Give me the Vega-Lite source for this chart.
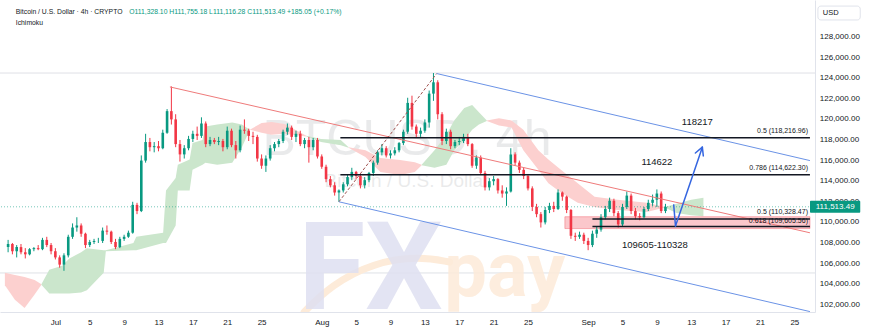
{
"$schema":"https://vega.github.io/schema/vega-lite/v6.json",
"width":815,"height":312,
"autosize":{"type":"none"},
"padding":{"left":0,"top":0,"right":55,"bottom":20},
"background":"white",
"config":{"view":{"stroke":null},"font":"Liberation Sans"},
"datasets":{
"candles":[
{"d":"2025-06-25T12:00","o":107.6,"h":108.3,"l":107.1,"c":107.9},
{"d":"2025-06-26T00:00","o":107.9,"h":108.0,"l":106.9,"c":107.2},
{"d":"2025-06-26T12:00","o":107.2,"h":107.8,"l":106.6,"c":107.6},
{"d":"2025-06-27T00:00","o":107.6,"h":107.9,"l":106.9,"c":107.1},
{"d":"2025-06-27T12:00","o":107.1,"h":107.5,"l":106.5,"c":106.9},
{"d":"2025-06-28T00:00","o":106.9,"h":107.5,"l":106.8,"c":107.4},
{"d":"2025-06-28T12:00","o":107.4,"h":107.6,"l":107.2,"c":107.5},
{"d":"2025-06-29T00:00","o":107.5,"h":107.8,"l":107.3,"c":107.4},
{"d":"2025-06-29T12:00","o":107.4,"h":108.5,"l":107.3,"c":108.3},
{"d":"2025-06-30T00:00","o":108.3,"h":108.6,"l":107.6,"c":107.8},
{"d":"2025-06-30T12:00","o":107.8,"h":108.0,"l":106.9,"c":107.2},
{"d":"2025-07-01T00:00","o":107.2,"h":107.5,"l":106.4,"c":106.6},
{"d":"2025-07-01T12:00","o":106.6,"h":106.8,"l":105.6,"c":105.9},
{"d":"2025-07-02T00:00","o":105.9,"h":107.0,"l":105.3,"c":106.8},
{"d":"2025-07-02T12:00","o":106.8,"h":108.8,"l":106.6,"c":108.6},
{"d":"2025-07-03T00:00","o":108.6,"h":109.9,"l":108.4,"c":109.5},
{"d":"2025-07-03T12:00","o":109.5,"h":110.5,"l":109.1,"c":109.7},
{"d":"2025-07-04T00:00","o":109.7,"h":109.9,"l":108.6,"c":108.9},
{"d":"2025-07-04T12:00","o":108.9,"h":109.0,"l":107.5,"c":107.8},
{"d":"2025-07-05T00:00","o":107.8,"h":108.3,"l":107.6,"c":108.1},
{"d":"2025-07-05T12:00","o":108.1,"h":108.4,"l":107.9,"c":108.2},
{"d":"2025-07-06T00:00","o":108.2,"h":108.5,"l":108.0,"c":108.2},
{"d":"2025-07-06T12:00","o":108.2,"h":109.5,"l":108.0,"c":109.2},
{"d":"2025-07-07T00:00","o":109.2,"h":109.7,"l":108.8,"c":109.1},
{"d":"2025-07-07T12:00","o":109.1,"h":109.2,"l":107.9,"c":108.1},
{"d":"2025-07-08T00:00","o":108.1,"h":108.4,"l":107.4,"c":107.6},
{"d":"2025-07-08T12:00","o":107.6,"h":108.6,"l":107.5,"c":108.4},
{"d":"2025-07-09T00:00","o":108.4,"h":108.8,"l":108.2,"c":108.6},
{"d":"2025-07-09T12:00","o":108.6,"h":109.2,"l":108.5,"c":109.0},
{"d":"2025-07-10T00:00","o":109.0,"h":112.0,"l":108.9,"c":111.7},
{"d":"2025-07-10T12:00","o":111.7,"h":111.9,"l":110.8,"c":111.1},
{"d":"2025-07-11T00:00","o":111.1,"h":116.5,"l":111.0,"c":116.0},
{"d":"2025-07-11T12:00","o":116.0,"h":118.6,"l":115.8,"c":117.8},
{"d":"2025-07-12T00:00","o":117.8,"h":118.2,"l":116.9,"c":117.3},
{"d":"2025-07-12T12:00","o":117.3,"h":117.8,"l":116.8,"c":117.4},
{"d":"2025-07-13T00:00","o":117.4,"h":117.9,"l":116.9,"c":117.2},
{"d":"2025-07-13T12:00","o":117.2,"h":119.0,"l":117.1,"c":118.7},
{"d":"2025-07-14T00:00","o":118.7,"h":121.0,"l":118.6,"c":120.8},
{"d":"2025-07-14T12:00","o":120.8,"h":123.2,"l":119.5,"c":120.0},
{"d":"2025-07-15T00:00","o":120.0,"h":120.5,"l":117.3,"c":117.6},
{"d":"2025-07-15T12:00","o":117.6,"h":118.0,"l":115.9,"c":116.6},
{"d":"2025-07-16T00:00","o":116.6,"h":117.5,"l":116.2,"c":117.2},
{"d":"2025-07-16T12:00","o":117.2,"h":118.4,"l":117.0,"c":118.1},
{"d":"2025-07-17T00:00","o":118.1,"h":118.9,"l":117.8,"c":118.6},
{"d":"2025-07-17T12:00","o":118.6,"h":119.3,"l":118.0,"c":118.4},
{"d":"2025-07-18T00:00","o":118.4,"h":120.2,"l":118.2,"c":119.6},
{"d":"2025-07-18T12:00","o":119.6,"h":119.8,"l":117.3,"c":117.6},
{"d":"2025-07-19T00:00","o":117.6,"h":118.3,"l":117.4,"c":118.0},
{"d":"2025-07-19T12:00","o":118.0,"h":118.2,"l":117.6,"c":117.8},
{"d":"2025-07-20T00:00","o":117.8,"h":118.3,"l":117.5,"c":117.9},
{"d":"2025-07-20T12:00","o":117.9,"h":118.1,"l":116.9,"c":117.3},
{"d":"2025-07-21T00:00","o":117.3,"h":119.3,"l":117.1,"c":118.9},
{"d":"2025-07-21T12:00","o":118.9,"h":119.1,"l":117.3,"c":117.5},
{"d":"2025-07-22T00:00","o":117.5,"h":117.9,"l":116.2,"c":117.0},
{"d":"2025-07-22T12:00","o":117.0,"h":119.4,"l":116.8,"c":119.0},
{"d":"2025-07-23T00:00","o":119.0,"h":120.0,"l":118.6,"c":118.9},
{"d":"2025-07-23T12:00","o":118.9,"h":119.1,"l":117.9,"c":118.4},
{"d":"2025-07-24T00:00","o":118.4,"h":118.8,"l":117.6,"c":118.3},
{"d":"2025-07-24T12:00","o":118.3,"h":118.5,"l":115.9,"c":116.2},
{"d":"2025-07-25T00:00","o":116.2,"h":116.6,"l":115.2,"c":115.5},
{"d":"2025-07-25T12:00","o":115.5,"h":116.5,"l":114.9,"c":116.2},
{"d":"2025-07-26T00:00","o":116.2,"h":117.5,"l":116.0,"c":117.2},
{"d":"2025-07-26T12:00","o":117.2,"h":117.8,"l":116.9,"c":117.6},
{"d":"2025-07-27T00:00","o":117.6,"h":118.1,"l":117.3,"c":117.9},
{"d":"2025-07-27T12:00","o":117.9,"h":119.0,"l":117.7,"c":118.8},
{"d":"2025-07-28T00:00","o":118.8,"h":119.6,"l":118.5,"c":119.2},
{"d":"2025-07-28T12:00","o":119.2,"h":119.4,"l":118.0,"c":118.3},
{"d":"2025-07-29T00:00","o":118.3,"h":118.9,"l":117.8,"c":118.6},
{"d":"2025-07-29T12:00","o":118.6,"h":118.9,"l":117.4,"c":117.6},
{"d":"2025-07-30T00:00","o":117.6,"h":118.2,"l":117.2,"c":118.0},
{"d":"2025-07-30T12:00","o":118.0,"h":118.3,"l":115.8,"c":117.3},
{"d":"2025-07-31T00:00","o":117.3,"h":118.2,"l":117.0,"c":118.0},
{"d":"2025-07-31T12:00","o":118.0,"h":118.2,"l":116.2,"c":116.4},
{"d":"2025-08-01T00:00","o":116.4,"h":116.6,"l":115.2,"c":115.4},
{"d":"2025-08-01T12:00","o":115.4,"h":115.6,"l":113.9,"c":114.2},
{"d":"2025-08-02T00:00","o":114.2,"h":114.5,"l":113.4,"c":113.6},
{"d":"2025-08-02T12:00","o":113.6,"h":113.9,"l":112.6,"c":112.9},
{"d":"2025-08-03T00:00","o":112.9,"h":113.2,"l":112.0,"c":113.1},
{"d":"2025-08-03T12:00","o":113.1,"h":113.9,"l":112.9,"c":113.7},
{"d":"2025-08-04T00:00","o":113.7,"h":114.6,"l":113.5,"c":114.4},
{"d":"2025-08-04T12:00","o":114.4,"h":115.3,"l":114.1,"c":114.9},
{"d":"2025-08-05T00:00","o":114.9,"h":115.0,"l":114.2,"c":114.5},
{"d":"2025-08-05T12:00","o":114.5,"h":114.7,"l":113.3,"c":113.6},
{"d":"2025-08-06T00:00","o":113.6,"h":114.4,"l":113.3,"c":114.1},
{"d":"2025-08-06T12:00","o":114.1,"h":114.9,"l":113.9,"c":114.8},
{"d":"2025-08-07T00:00","o":114.8,"h":116.0,"l":114.5,"c":115.8},
{"d":"2025-08-07T12:00","o":115.8,"h":117.0,"l":115.6,"c":116.8},
{"d":"2025-08-08T00:00","o":116.8,"h":117.6,"l":116.5,"c":117.2},
{"d":"2025-08-08T12:00","o":117.2,"h":117.4,"l":116.3,"c":116.5},
{"d":"2025-08-09T00:00","o":116.5,"h":117.0,"l":116.2,"c":116.7},
{"d":"2025-08-09T12:00","o":116.7,"h":117.3,"l":116.5,"c":117.0},
{"d":"2025-08-10T00:00","o":117.0,"h":117.8,"l":116.8,"c":117.7},
{"d":"2025-08-10T12:00","o":117.7,"h":119.0,"l":117.5,"c":118.8},
{"d":"2025-08-11T00:00","o":118.8,"h":122.1,"l":118.6,"c":121.6},
{"d":"2025-08-11T12:00","o":121.6,"h":122.3,"l":119.0,"c":119.3},
{"d":"2025-08-12T00:00","o":119.3,"h":119.5,"l":118.2,"c":118.6},
{"d":"2025-08-12T12:00","o":118.6,"h":119.2,"l":118.3,"c":118.9},
{"d":"2025-08-13T00:00","o":118.9,"h":120.0,"l":118.7,"c":119.7},
{"d":"2025-08-13T12:00","o":119.7,"h":122.8,"l":119.2,"c":122.5},
{"d":"2025-08-14T00:00","o":122.5,"h":124.5,"l":121.8,"c":123.6},
{"d":"2025-08-14T12:00","o":123.6,"h":123.8,"l":120.0,"c":120.5},
{"d":"2025-08-15T00:00","o":120.5,"h":120.7,"l":117.5,"c":117.9},
{"d":"2025-08-15T12:00","o":117.9,"h":119.1,"l":117.6,"c":118.8},
{"d":"2025-08-16T00:00","o":118.8,"h":119.0,"l":117.1,"c":117.4},
{"d":"2025-08-16T12:00","o":117.4,"h":118.0,"l":117.2,"c":117.8},
{"d":"2025-08-17T00:00","o":117.8,"h":118.3,"l":117.5,"c":117.9},
{"d":"2025-08-17T12:00","o":117.9,"h":118.6,"l":117.7,"c":118.3},
{"d":"2025-08-18T00:00","o":118.3,"h":118.6,"l":117.4,"c":117.6},
{"d":"2025-08-18T12:00","o":117.6,"h":117.7,"l":115.3,"c":115.5},
{"d":"2025-08-19T00:00","o":115.5,"h":116.5,"l":115.2,"c":116.3},
{"d":"2025-08-19T12:00","o":116.3,"h":116.5,"l":114.6,"c":114.8},
{"d":"2025-08-20T00:00","o":114.8,"h":115.0,"l":113.1,"c":113.4},
{"d":"2025-08-20T12:00","o":113.4,"h":114.3,"l":113.1,"c":114.0},
{"d":"2025-08-21T00:00","o":114.0,"h":114.5,"l":113.6,"c":114.2},
{"d":"2025-08-21T12:00","o":114.2,"h":114.3,"l":112.8,"c":113.1},
{"d":"2025-08-22T00:00","o":113.1,"h":113.6,"l":112.4,"c":112.8},
{"d":"2025-08-22T12:00","o":112.8,"h":113.4,"l":111.6,"c":113.0},
{"d":"2025-08-23T00:00","o":113.0,"h":117.2,"l":112.9,"c":116.6},
{"d":"2025-08-23T12:00","o":116.6,"h":116.8,"l":115.5,"c":115.8},
{"d":"2025-08-24T00:00","o":115.8,"h":116.0,"l":114.8,"c":115.1},
{"d":"2025-08-24T12:00","o":115.1,"h":115.3,"l":114.2,"c":114.5},
{"d":"2025-08-25T00:00","o":114.5,"h":114.7,"l":113.1,"c":113.3},
{"d":"2025-08-25T12:00","o":113.3,"h":113.5,"l":111.1,"c":111.5},
{"d":"2025-08-26T00:00","o":111.5,"h":111.8,"l":110.5,"c":110.8},
{"d":"2025-08-26T12:00","o":110.8,"h":111.0,"l":109.5,"c":110.0},
{"d":"2025-08-27T00:00","o":110.0,"h":111.5,"l":109.8,"c":111.2},
{"d":"2025-08-27T12:00","o":111.2,"h":111.9,"l":110.9,"c":111.6},
{"d":"2025-08-28T00:00","o":111.6,"h":112.0,"l":111.0,"c":111.3},
{"d":"2025-08-28T12:00","o":111.3,"h":113.2,"l":111.2,"c":112.9},
{"d":"2025-08-29T00:00","o":112.9,"h":113.0,"l":112.1,"c":112.5},
{"d":"2025-08-29T12:00","o":112.5,"h":112.6,"l":110.9,"c":111.2},
{"d":"2025-08-30T00:00","o":111.2,"h":111.3,"l":108.4,"c":108.7},
{"d":"2025-08-30T12:00","o":108.7,"h":109.0,"l":108.2,"c":108.6},
{"d":"2025-08-31T00:00","o":108.6,"h":109.1,"l":108.4,"c":108.8},
{"d":"2025-08-31T12:00","o":108.8,"h":109.0,"l":107.9,"c":108.2},
{"d":"2025-09-01T00:00","o":108.2,"h":108.5,"l":107.3,"c":107.8},
{"d":"2025-09-01T12:00","o":107.8,"h":109.2,"l":107.6,"c":108.9},
{"d":"2025-09-02T00:00","o":108.9,"h":109.6,"l":108.5,"c":109.3},
{"d":"2025-09-02T12:00","o":109.3,"h":110.8,"l":109.1,"c":110.5},
{"d":"2025-09-03T00:00","o":110.5,"h":111.6,"l":110.3,"c":111.3},
{"d":"2025-09-03T12:00","o":111.3,"h":112.4,"l":111.0,"c":112.1},
{"d":"2025-09-04T00:00","o":112.1,"h":112.3,"l":110.6,"c":110.9},
{"d":"2025-09-04T12:00","o":110.9,"h":111.1,"l":109.5,"c":109.8},
{"d":"2025-09-05T00:00","o":109.8,"h":111.8,"l":109.6,"c":111.5},
{"d":"2025-09-05T12:00","o":111.5,"h":113.0,"l":111.3,"c":112.6},
{"d":"2025-09-06T00:00","o":112.6,"h":112.8,"l":110.8,"c":111.1},
{"d":"2025-09-06T12:00","o":111.1,"h":111.4,"l":110.3,"c":110.6},
{"d":"2025-09-07T00:00","o":110.6,"h":110.9,"l":110.2,"c":110.5},
{"d":"2025-09-07T12:00","o":110.5,"h":111.5,"l":110.4,"c":111.3},
{"d":"2025-09-08T00:00","o":111.3,"h":112.2,"l":111.1,"c":111.9},
{"d":"2025-09-08T12:00","o":111.9,"h":112.7,"l":111.6,"c":112.2},
{"d":"2025-09-09T00:00","o":112.2,"h":113.2,"l":111.5,"c":112.8},
{"d":"2025-09-09T12:00","o":112.8,"h":113.0,"l":110.9,"c":111.1},
{"d":"2025-09-10T00:00","o":111.1,"h":111.8,"l":110.9,"c":111.5}
],
"cloud":[
{"s":"r1","k":"r","d":"2025-06-25T03:00","a":105.1,"b":103.9},
{"s":"r1","k":"r","d":"2025-06-26T07:00","a":104.9,"b":102.5},
{"s":"r1","k":"r","d":"2025-06-27T10:00","a":104.7,"b":101.7},
{"s":"r1","k":"r","d":"2025-06-28T14:00","a":104.4,"b":103.0},
{"s":"r1","k":"r","d":"2025-06-29T09:00","a":104.0,"b":103.95},
{"s":"g1","k":"g","d":"2025-06-29T09:00","a":104.0,"b":103.95},
{"s":"g1","k":"g","d":"2025-06-30T07:00","a":105.4,"b":103.1},
{"s":"g1","k":"g","d":"2025-07-01T19:00","a":105.8,"b":103.1},
{"s":"g1","k":"g","d":"2025-07-02T15:00","a":106.5,"b":103.1},
{"s":"g1","k":"g","d":"2025-07-04T00:00","a":107.1,"b":103.2},
{"s":"g1","k":"g","d":"2025-07-04T16:00","a":107.5,"b":103.4},
{"s":"g1","k":"g","d":"2025-07-06T15:00","a":107.3,"b":105.1},
{"s":"g1","k":"g","d":"2025-07-06T21:00","a":107.3,"b":107.2},
{"s":"g1","k":"g","d":"2025-07-10T02:00","a":108.0,"b":107.3},
{"s":"g1","k":"g","d":"2025-07-10T10:00","a":108.6,"b":107.3},
{"s":"g1","k":"g","d":"2025-07-13T13:00","a":109.0,"b":108.0},
{"s":"g1","k":"g","d":"2025-07-13T21:00","a":113.1,"b":108.0},
{"s":"g1","k":"g","d":"2025-07-15T00:00","a":114.3,"b":109.7},
{"s":"g1","k":"g","d":"2025-07-15T06:00","a":115.6,"b":113.1},
{"s":"g1","k":"g","d":"2025-07-16T15:00","a":116.1,"b":113.1},
{"s":"g1","k":"g","d":"2025-07-16T23:00","a":117.7,"b":115.1},
{"s":"g1","k":"g","d":"2025-07-18T03:00","a":118.0,"b":115.6},
{"s":"g1","k":"g","d":"2025-07-18T11:00","a":119.3,"b":115.8},
{"s":"g1","k":"g","d":"2025-07-19T20:00","a":119.5,"b":115.6},
{"s":"g1","k":"g","d":"2025-07-21T14:00","a":119.7,"b":115.8},
{"s":"g1","k":"g","d":"2025-07-22T17:00","a":119.5,"b":117.3},
{"s":"g1","k":"g","d":"2025-07-23T15:00","a":119.0,"b":119.0},
{"s":"r2","k":"r","d":"2025-07-23T15:00","a":119.0,"b":119.0},
{"s":"r2","k":"r","d":"2025-07-25T00:00","a":119.65,"b":118.7},
{"s":"r2","k":"r","d":"2025-07-26T04:00","a":119.75,"b":118.5},
{"s":"r2","k":"r","d":"2025-07-27T16:00","a":119.55,"b":118.6},
{"s":"r2","k":"r","d":"2025-07-30T05:00","a":118.4,"b":118.35},
{"s":"g2","k":"g","d":"2025-07-30T05:00","a":118.4,"b":118.35},
{"s":"g2","k":"g","d":"2025-07-31T22:00","a":118.1,"b":117.8},
{"s":"g2","k":"g","d":"2025-08-03T05:00","a":118.0,"b":117.5},
{"s":"g2","k":"g","d":"2025-08-04T03:00","a":117.3,"b":117.25},
{"s":"r3","k":"r","d":"2025-08-04T03:00","a":117.3,"b":117.25},
{"s":"r3","k":"r","d":"2025-08-06T02:00","a":117.0,"b":116.35},
{"s":"r3","k":"r","d":"2025-08-07T20:00","a":116.25,"b":114.9},
{"s":"r3","k":"r","d":"2025-08-10T03:00","a":116.05,"b":114.6},
{"s":"r3","k":"r","d":"2025-08-11T20:00","a":115.85,"b":114.9},
{"s":"r3","k":"r","d":"2025-08-12T15:00","a":115.6,"b":115.55},
{"s":"g3","k":"g","d":"2025-08-12T15:00","a":115.6,"b":115.55},
{"s":"g3","k":"g","d":"2025-08-14T03:00","a":117.0,"b":115.3},
{"s":"g3","k":"g","d":"2025-08-15T12:00","a":118.5,"b":115.6},
{"s":"g3","k":"g","d":"2025-08-16T10:00","a":119.9,"b":117.0},
{"s":"g3","k":"g","d":"2025-08-17T14:00","a":121.1,"b":118.0},
{"s":"g3","k":"g","d":"2025-08-18T12:00","a":121.4,"b":119.0},
{"s":"g3","k":"g","d":"2025-08-19T07:00","a":120.7,"b":119.5},
{"s":"g3","k":"g","d":"2025-08-20T05:00","a":119.9,"b":119.85},
{"s":"r4","k":"r","d":"2025-08-20T05:00","a":119.9,"b":119.85},
{"s":"r4","k":"r","d":"2025-08-21T15:00","a":120.1,"b":119.4},
{"s":"r4","k":"r","d":"2025-08-23T02:00","a":119.9,"b":119.2},
{"s":"r4","k":"r","d":"2025-08-24T11:00","a":119.0,"b":117.0},
{"s":"r4","k":"r","d":"2025-08-26T05:00","a":117.0,"b":115.1},
{"s":"r4","k":"r","d":"2025-08-27T09:00","a":116.1,"b":113.8},
{"s":"r4","k":"r","d":"2025-08-28T20:00","a":115.1,"b":112.9},
{"s":"r4","k":"r","d":"2025-08-30T19:00","a":113.8,"b":111.9},
{"s":"r4","k":"r","d":"2025-09-01T18:00","a":112.5,"b":111.5},
{"s":"r4","k":"r","d":"2025-09-04T10:00","a":112.2,"b":111.2},
{"s":"r4","k":"r","d":"2025-09-07T20:00","a":111.9,"b":111.0},
{"s":"r4","k":"r","d":"2025-09-09T22:00","a":111.5,"b":111.45},
{"s":"g4","k":"g","d":"2025-09-09T22:00","a":111.5,"b":111.45},
{"s":"g4","k":"g","d":"2025-09-11T07:00","a":111.8,"b":110.9},
{"s":"g4","k":"g","d":"2025-09-13T00:00","a":112.2,"b":110.7},
{"s":"g4","k":"g","d":"2025-09-14T10:00","a":112.4,"b":110.6}
],
"segs":[
{"n":"red","d1":"2025-07-14T08:00","p1":123.15,"d2":"2025-09-26T19:30","p2":108.99},
{"n":"diag","d1":"2025-08-03T00:00","p1":112.0,"d2":"2025-08-14T09:00","p2":124.45},
{"n":"blue","d1":"2025-08-14T09:00","p1":124.45,"d2":"2025-09-26T19:30","p2":116.0},
{"n":"blue","d1":"2025-08-03T00:00","p1":112.0,"d2":"2025-09-26T19:30","p2":101.34},
{"n":"fib","d1":"2025-08-03T04:00","p1":118.217,"d2":"2025-09-26T19:30","p2":118.217},
{"n":"fib","d1":"2025-08-03T04:00","p1":114.622,"d2":"2025-09-26T19:30","p2":114.622},
{"n":"fib","d1":"2025-09-01T12:00","p1":110.328,"d2":"2025-09-26T19:30","p2":110.328},
{"n":"fib","d1":"2025-09-01T12:00","p1":109.606,"d2":"2025-09-26T19:30","p2":109.606},
{"n":"arrow","d1":"2025-09-10T23:00","p1":111.7,"d2":"2025-09-11T04:00","p2":109.65},
{"n":"arrow","d1":"2025-09-11T04:00","p1":109.65,"d2":"2025-09-14T07:00","p2":117.3},
{"n":"arrow","d1":"2025-09-14T07:00","p1":117.3,"d2":"2025-09-13T11:30","p2":116.74},
{"n":"arrow","d1":"2025-09-14T07:00","p1":117.3,"d2":"2025-09-14T09:40","p2":116.45}
],
"zone":[{"d1":"2025-08-29T07:00","d2":"2025-09-26T19:35","p1":110.55,"p2":109.4}],
"hlines":[{"n":"gray","p":124.5},{"n":"gray","p":105.09},{"n":"cur","p":111.513}],
"yticks":[
{"v":102,"t":"102,000.00"},{"v":104,"t":"104,000.00"},{"v":106,"t":"106,000.00"},{"v":108,"t":"108,000.00"},
{"v":110,"t":"110,000.00"},{"v":112,"t":"112,000.00"},{"v":114,"t":"114,000.00"},{"v":116,"t":"116,000.00"},
{"v":118,"t":"118,000.00"},{"v":120,"t":"120,000.00"},{"v":122,"t":"122,000.00"},{"v":124,"t":"124,000.00"},
{"v":126,"t":"126,000.00"},{"v":128,"t":"128,000.00"}
],
"swoosh":[
{"i":1,"d":"2025-07-29T23:00","p":101.3},
{"i":2,"d":"2025-08-02T02:00","p":103.9},
{"i":3,"d":"2025-08-07T00:00","p":106.1},
{"i":4,"d":"2025-08-12T10:00","p":106.7},
{"i":5,"d":"2025-08-15T21:00","p":106.15}
],
"logo":[
{"n":"fx","t":"FX","d":"2025-08-06T16:00","p":101.55},
{"n":"pay","t":"pay","d":"2025-08-22T07:00","p":102.9}
],
"wm":[
{"n":"big","t":"BTCUSD, 4h","d":"2025-08-10T22:00","p":118.0},
{"n":"small","t":"Bitcoin / U.S. Dollar","d":"2025-08-10T22:00","p":114.0}
],
"notes":[
{"n":"big","t":"118217","d":"2025-09-13T17:00","p":119.75},
{"n":"big","t":"114622","d":"2025-09-09T00:00","p":115.86},
{"n":"big","t":"109605-110328","d":"2025-09-08T18:30","p":107.8},
{"n":"fib","t":"0.5 (118,216.96)","d":"2025-09-26T14:00","p":118.87},
{"n":"fib","t":"0.786 (114,622.30)","d":"2025-09-26T14:00","p":115.28},
{"n":"fib","t":"0.5 (110,328.47)","d":"2025-09-26T14:00","p":111.02},
{"n":"fib","t":"0.618 (109,605.56)","d":"2025-09-26T14:00","p":110.17},
{"n":"hd","t":"Bitcoin / U.S. Dollar · 4h · CRYPTO","d":"2025-06-26T09:30","p":130.43},
{"n":"ohlc","t":"O111,328.10 H111,755.18 L111,116.28 C111,513.49 +185.05 (+0.17%)","d":"2025-07-09T14:00","p":130.43},
{"n":"hd","t":"Ichimoku","d":"2025-06-26T09:30","p":129.36},
{"n":"usd","t":"USD","d":"2025-09-28T07:30","p":130.33},
{"n":"price","t":"111,513.49","d":"2025-09-29T18:00","p":111.513}
],
"boxes":[
{"n":"usd","d1":"2025-09-27T17:45","d2":"2025-10-02T16:00","p1":131.0,"p2":129.65},
{"n":"price","d1":"2025-09-26T19:40","d2":"2025-10-02T16:00","p1":112.1,"p2":110.93}
]
},
"layer":[
{"data":{"name":"hlines"},"transform":[{"filter":"datum.n=='gray'"}],
 "mark":{"type":"rule","stroke":"#dfe1e6","strokeWidth":1},
 "encoding":{
  "y":{"field":"p","type":"quantitative","scale":{"domain":[101.3,131.59],"nice":false,"zero":false},
   "axis":{"orient":"right","title":null,"labels":false,"ticks":false,"grid":false,"domainColor":"#e0e3eb"}}
 }},
{"data":{"name":"swoosh"},"mark":{"type":"line","stroke":"#fdebd9","strokeWidth":7,"interpolate":"basis","clip":true,"strokeCap":"round"},
 "encoding":{
  "x":{"field":"d","type":"temporal","scale":{"domain":[{"year":2025,"month":6,"date":25,"hours":3,"minutes":19},{"year":2025,"month":9,"date":26,"hours":19,"minutes":40}],"nice":false},
   "axis":{"title":null,"orient":"bottom","values":[{"year":2025,"month":7,"date":1},{"year":2025,"month":7,"date":5},{"year":2025,"month":7,"date":9},{"year":2025,"month":7,"date":13},{"year":2025,"month":7,"date":17},{"year":2025,"month":7,"date":21},{"year":2025,"month":7,"date":25},{"year":2025,"month":8,"date":1},{"year":2025,"month":8,"date":5},{"year":2025,"month":8,"date":9},{"year":2025,"month":8,"date":13},{"year":2025,"month":8,"date":17},{"year":2025,"month":8,"date":21},{"year":2025,"month":8,"date":25},{"year":2025,"month":9,"date":1},{"year":2025,"month":9,"date":5},{"year":2025,"month":9,"date":9},{"year":2025,"month":9,"date":13},{"year":2025,"month":9,"date":17},{"year":2025,"month":9,"date":21},{"year":2025,"month":9,"date":25}],
    "labelExpr":"date(datum.value)==1 ? timeFormat(datum.value,'%b') : timeFormat(datum.value,'%-d')","labelFontSize":8,"labelColor":"#131722","labelPadding":6,"ticks":false,"grid":false,"domainColor":"#e0e3eb","labelOverlap":false,"labelFont":"Liberation Sans"}},
  "y":{"field":"p","type":"quantitative"},
  "order":{"field":"i"}
 }},
{"data":{"name":"yticks"},
 "mark":{"type":"text","font":"Liberation Sans","fontSize":8,"fill":"#131722","align":"left","baseline":"middle"},
 "encoding":{"x":{"datum":{"year":2025,"month":9,"date":27,"hours":23},"type":"temporal"},"y":{"field":"v","type":"quantitative"},"text":{"field":"t"}}},
{"data":{"name":"logo"},"transform":[{"filter":"datum.n=='fx'"}],
 "mark":{"type":"text","font":"Roboto","fontWeight":"bold","fontSize":122,"fill":"#dfe0f1","opacity":0.85,"align":"center","baseline":"alphabetic","clip":true},
 "encoding":{"x":{"field":"d","type":"temporal"},"y":{"field":"p","type":"quantitative"},"text":{"field":"t"}}},
{"data":{"name":"logo"},"transform":[{"filter":"datum.n=='pay'"}],
 "mark":{"type":"text","font":"Roboto","fontWeight":"bold","fontSize":76,"fill":"#fdebd9","opacity":0.85,"align":"center","baseline":"alphabetic","clip":true},
 "encoding":{"x":{"field":"d","type":"temporal"},"y":{"field":"p","type":"quantitative"},"text":{"field":"t"}}},
{"data":{"name":"wm"},"transform":[{"filter":"datum.n=='big'"}],
 "mark":{"type":"text","font":"Liberation Sans","fontSize":50,"fill":"#131722","opacity":0.085,"align":"center","baseline":"middle"},
 "encoding":{"x":{"field":"d","type":"temporal"},"y":{"field":"p","type":"quantitative"},"text":{"field":"t"}}},
{"data":{"name":"wm"},"transform":[{"filter":"datum.n=='small'"}],
 "mark":{"type":"text","font":"Liberation Sans","fontSize":19,"fill":"#131722","opacity":0.085,"align":"center","baseline":"middle"},
 "encoding":{"x":{"field":"d","type":"temporal"},"y":{"field":"p","type":"quantitative"},"text":{"field":"t"}}},
{"data":{"name":"cloud"},"mark":{"type":"area","clip":true},
 "encoding":{"x":{"field":"d","type":"temporal"},"y":{"field":"a","type":"quantitative"},"y2":{"field":"b"},
  "color":{"field":"k","type":"nominal","scale":{"domain":["g","r"],"range":["#cbe6cc","#fcd0cf"]},"legend":null},
  "detail":{"field":"s"}}},
{"data":{"name":"zone"},"mark":{"type":"rect","fill":"#f23645","fillOpacity":0.28,"stroke":"#f23645","strokeOpacity":0.35,"strokeWidth":1},
 "encoding":{"x":{"field":"d1","type":"temporal"},"x2":{"field":"d2"},"y":{"field":"p1","type":"quantitative"},"y2":{"field":"p2"}}},
{"data":{"name":"hlines"},"transform":[{"filter":"datum.n=='cur'"}],
 "mark":{"type":"rule","stroke":"#089981","strokeWidth":1,"strokeDash":[1,2],"opacity":0.55},
 "encoding":{"y":{"field":"p","type":"quantitative"}}},
{"data":{"name":"candles"},"mark":{"type":"rule","strokeWidth":1},
 "encoding":{"x":{"field":"d","type":"temporal"},"y":{"field":"l","type":"quantitative"},"y2":{"field":"h"},
  "color":{"condition":{"test":"datum.c >= datum.o","value":"#089981"},"value":"#f23645"}}},
{"data":{"name":"candles"},"mark":{"type":"bar","width":2.6},
 "encoding":{"x":{"field":"d","type":"temporal"},"y":{"field":"o","type":"quantitative"},"y2":{"field":"c"},
  "color":{"condition":{"test":"datum.c >= datum.o","value":"#089981"},"value":"#f23645"}}},
{"data":{"name":"segs"},"transform":[{"filter":"datum.n=='red'"}],
 "mark":{"type":"rule","stroke":"#ef7b7b","strokeWidth":1,"clip":true},
 "encoding":{"x":{"field":"d1","type":"temporal"},"x2":{"field":"d2"},"y":{"field":"p1","type":"quantitative"},"y2":{"field":"p2"}}},
{"data":{"name":"segs"},"transform":[{"filter":"datum.n=='diag'"}],
 "mark":{"type":"rule","stroke":"#a0524f","strokeWidth":1,"strokeDash":[3,2],"clip":true},
 "encoding":{"x":{"field":"d1","type":"temporal"},"x2":{"field":"d2"},"y":{"field":"p1","type":"quantitative"},"y2":{"field":"p2"}}},
{"data":{"name":"segs"},"transform":[{"filter":"datum.n=='blue'"}],
 "mark":{"type":"rule","stroke":"#6b93e6","strokeWidth":1,"clip":true},
 "encoding":{"x":{"field":"d1","type":"temporal"},"x2":{"field":"d2"},"y":{"field":"p1","type":"quantitative"},"y2":{"field":"p2"}}},
{"data":{"name":"segs"},"transform":[{"filter":"datum.n=='fib'"}],
 "mark":{"type":"rule","stroke":"#131722","strokeWidth":1.5,"clip":true},
 "encoding":{"x":{"field":"d1","type":"temporal"},"x2":{"field":"d2"},"y":{"field":"p1","type":"quantitative"},"y2":{"field":"p2"}}},
{"data":{"name":"segs"},"transform":[{"filter":"datum.n=='arrow'"}],
 "mark":{"type":"rule","stroke":"#3566e0","strokeWidth":1.5,"strokeCap":"round","clip":true},
 "encoding":{"x":{"field":"d1","type":"temporal"},"x2":{"field":"d2"},"y":{"field":"p1","type":"quantitative"},"y2":{"field":"p2"}}},
{"data":{"name":"notes"},"transform":[{"filter":"datum.n=='big'"}],
 "mark":{"type":"text","font":"Liberation Sans","fontSize":9.5,"fill":"#131722","align":"center","baseline":"middle"},
 "encoding":{"x":{"field":"d","type":"temporal"},"y":{"field":"p","type":"quantitative"},"text":{"field":"t"}}},
{"data":{"name":"notes"},"transform":[{"filter":"datum.n=='fib'"}],
 "mark":{"type":"text","font":"Liberation Sans","fontSize":7,"fill":"#131722","align":"right","baseline":"middle"},
 "encoding":{"x":{"field":"d","type":"temporal"},"y":{"field":"p","type":"quantitative"},"text":{"field":"t"}}},
{"data":{"name":"notes"},"transform":[{"filter":"datum.n=='hd'"}],
 "mark":{"type":"text","font":"Liberation Sans","fontSize":6.8,"fill":"#131722","align":"left","baseline":"middle"},
 "encoding":{"x":{"field":"d","type":"temporal"},"y":{"field":"p","type":"quantitative"},"text":{"field":"t"}}},
{"data":{"name":"notes"},"transform":[{"filter":"datum.n=='ohlc'"}],
 "mark":{"type":"text","font":"Liberation Sans","fontSize":6.8,"fill":"#089981","align":"left","baseline":"middle"},
 "encoding":{"x":{"field":"d","type":"temporal"},"y":{"field":"p","type":"quantitative"},"text":{"field":"t"}}},
{"data":{"name":"boxes"},"transform":[{"filter":"datum.n=='usd'"}],
 "mark":{"type":"rect","fill":"white","stroke":"#e0e3eb","strokeWidth":1,"cornerRadius":3},
 "encoding":{"x":{"field":"d1","type":"temporal"},"x2":{"field":"d2"},"y":{"field":"p1","type":"quantitative"},"y2":{"field":"p2"}}},
{"data":{"name":"boxes"},"transform":[{"filter":"datum.n=='price'"}],
 "mark":{"type":"rect","fill":"#089981","cornerRadius":1},
 "encoding":{"x":{"field":"d1","type":"temporal"},"x2":{"field":"d2"},"y":{"field":"p1","type":"quantitative"},"y2":{"field":"p2"}}},
{"data":{"name":"notes"},"transform":[{"filter":"datum.n=='usd'"}],
 "mark":{"type":"text","font":"Liberation Sans","fontSize":7.5,"fill":"#131722","align":"left","baseline":"middle"},
 "encoding":{"x":{"field":"d","type":"temporal"},"y":{"field":"p","type":"quantitative"},"text":{"field":"t"}}},
{"data":{"name":"notes"},"transform":[{"filter":"datum.n=='price'"}],
 "mark":{"type":"text","font":"Liberation Sans","fontSize":8,"fill":"white","align":"center","baseline":"middle"},
 "encoding":{"x":{"field":"d","type":"temporal"},"y":{"field":"p","type":"quantitative"},"text":{"field":"t"}}}
]
}
